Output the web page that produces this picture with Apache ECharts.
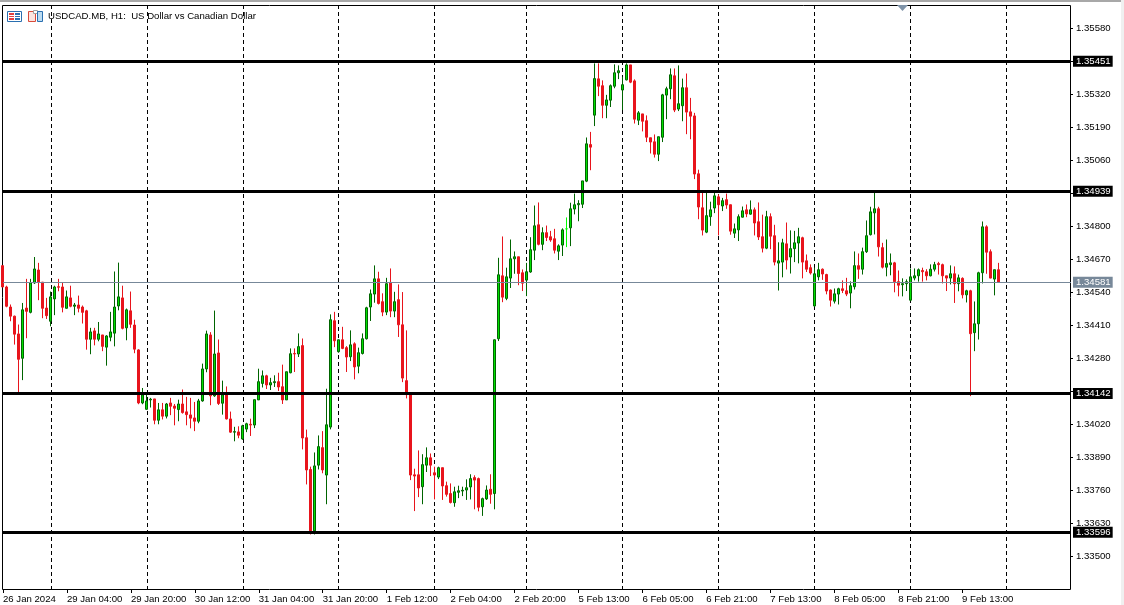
<!DOCTYPE html>
<html>
<head>
    <meta charset="utf-8">
    <title>USDCAD.MB, H1</title>
    <script src="https://cdn.jsdelivr.net/npm/echarts@6/dist/echarts.min.js"></script>
    <style type="text/css">
        * {
            margin: 0px;
            padding: 0px;
        }

        #main {
            position: absolute;
            width: 1124px;
            height: 605px;
            background: #ffffff;
        }
    </style>
</head>
<body>
<div id="main"></div>
<script type="text/javascript">
    // prices are kept in points (1.34581 -> 134581)
    var opens = [
        134646,134562,134483,134447,134377,134281,134479,134462,134578,134629,
        134581,134479,134427,134515,134563,134562,134478,134519,134486,134491,
        134483,134468,134356,134389,134356,134373,134325,134364,134380,134487,
        134519,134401,134468,134412,134314,134105,134080,134117,134121,134037,
        134078,134053,134105,134093,134079,134101,134070,134058,134046,134033,
        134113,134239,134373,134133,134302,134104,134137,134042,133990,133991,
        133963,134002,134021,134018,134117,134182,134212,134176,134185,134189,
        134169,134117,134224,134300,134298,134331,133968,133843,133601,133860,
        133929,133821,134010,134429,134307,134354,134323,134287,134338,134250,
        134300,134358,134483,134534,134594,134504,134463,134580,134467,134512,
        134413,134193,134138,133822,133822,133775,133860,133889,133830,133813,
        133850,133779,133748,133712,133753,133758,133762,133774,133811,133807,
        133696,133727,133765,133748,134358,134606,134517,134597,134673,134681,
        134618,134589,134621,134707,134807,134730,134776,134760,134752,134703,
        134727,134791,134795,134869,134886,134888,134979,135123,135239,135382,
        135355,135278,135298,135353,135406,135338,135378,135437,135374,135219,
        135244,135217,135150,135134,135085,135152,135318,135343,135394,135263,
        135276,135347,135252,135236,135008,134874,134778,134839,134873,134917,
        134881,134906,134886,134774,134787,134837,134866,134849,134866,134819,
        134760,134715,134839,134764,134656,134660,134732,134680,134713,134735,
        134756,134665,134638,134487,134602,134632,134611,134550,134506,134534,
        134555,134547,134538,134563,134646,134632,134701,134768,134854,134870,
        134717,134640,134650,134657,134583,134571,134575,134510,134597,134606,
        134627,134622,134606,134632,134654,134650,134606,134597,134614,134575,
        134596,134531,134547,134382,134417,134618,134799,134701,134593,134630
    ];
    var closes = [
        134562,134486,134447,134376,134277,134472,134466,134578,134633,134582,
        134478,134449,134523,134562,134561,134482,134523,134486,134491,134478,
        134462,134356,134385,134356,134377,134328,134369,134385,134483,134523,
        134399,134472,134415,134317,134105,134137,134113,134120,134037,134078,
        134053,134101,134092,134084,134101,134067,134059,134045,134033,134113,
        134239,134377,134133,134298,134103,134137,134042,133990,133992,133978,
        134015,134023,134018,134118,134189,134212,134176,134185,134189,134168,
        134117,134228,134299,134298,134327,133967,133841,133601,133857,133933,
        133841,134019,134433,134350,134354,134320,134286,134334,134247,134303,
        134358,134480,134535,134594,134497,134463,134575,134467,134504,134413,
        134203,134138,133821,133817,133770,133862,133889,133860,133821,133850,
        133778,133745,133713,133755,133759,133761,133771,133807,133801,133694,
        133728,133762,133745,134354,134610,134522,134602,134673,134681,134615,
        134577,134622,134709,134803,134730,134776,134757,134747,134707,134724,
        134787,134791,134870,134886,134891,134980,135126,135113,135383,135353,
        135278,135299,135355,135406,135414,135359,135437,135369,135223,135248,
        135215,135152,135133,135085,135154,135319,135343,135398,135259,135284,
        135347,135251,135235,135007,134877,134786,134843,134866,134921,134886,
        134902,134885,134782,134791,134839,134862,134850,134866,134814,134759,
        134715,134839,134762,134660,134665,134736,134668,134713,134736,134760,
        134660,134632,134617,134614,134630,134613,134546,134510,134535,134555,
        134548,134534,134567,134646,134632,134701,134764,134858,134870,134720,
        134640,134654,134657,134583,134569,134575,134583,134602,134606,134630,
        134622,134606,134632,134650,134650,134606,134597,134614,134575,134598,
        134531,134547,134378,134417,134618,134799,134699,134597,134630,134581
    ];
    var lows = [
        134562,134482,134427,134335,134147,134195,134360,134458,134574,134510,
        134439,134436,134407,134451,134545,134462,134477,134482,134451,134462,
        134418,134315,134297,134332,134348,134309,134252,134348,134328,134470,
        134395,134352,134401,134301,134100,134100,134078,134087,134021,134021,
        134040,134044,134057,134017,134033,134063,134017,134005,133994,134025,
        134110,134226,134096,134129,134097,134059,134040,133987,133954,133966,
        133960,133990,133975,134006,134117,134166,134160,134156,134168,134152,
        134101,134117,134222,134227,134286,133922,133784,133587,133587,133843,
        133828,133706,134001,134325,134303,134317,134227,134270,134198,134222,
        134296,134355,134428,134500,134493,134447,134451,134443,134443,134365,
        134187,134123,133801,133679,133734,133706,133833,133817,133725,133805,
        133723,133736,133709,133696,133730,133738,133723,133725,133686,133678,
        133660,133723,133708,133686,134349,134502,134510,134558,134614,134569,
        134546,134526,134618,134668,134726,134707,134743,134740,134694,134668,
        134684,134719,134723,134848,134821,134873,134975,135022,135196,135314,
        135227,135227,135271,135345,135381,135259,135376,135365,135206,135200,
        135175,135133,135088,135072,135058,135133,135223,135302,135251,135255,
        135215,135164,135144,134987,134829,134765,134774,134803,134853,134765,
        134861,134870,134768,134755,134743,134836,134837,134847,134765,134747,
        134698,134711,134711,134647,134548,134600,134631,134615,134660,134655,
        134596,134621,134611,134483,134588,134590,134533,134485,134497,134493,
        134538,134526,134478,134552,134594,134611,134696,134765,134769,134682,
        134635,134604,134608,134541,134525,134525,134546,134506,134588,134583,
        134583,134588,134604,134623,134611,134576,134546,134572,134499,134545,
        134517,134501,134132,134309,134355,134576,134614,134596,134529,134581
    ];
    var highs = [
        134646,134567,134493,134449,134414,134499,134594,134594,134680,134657,
        134581,134519,134544,134567,134594,134578,134548,134567,134499,134528,
        134489,134472,134401,134401,134424,134373,134372,134464,134623,134658,
        134567,134477,134544,134433,134317,134164,134145,134125,134121,134105,
        134105,134105,134125,134101,134118,134158,134129,134125,134109,134121,
        134260,134390,134384,134469,134355,134193,134170,134071,134011,134013,
        134019,134027,134043,134118,134240,134233,134216,134204,134214,134224,
        134256,134228,134320,134320,134379,134359,134000,133854,133910,133977,
        133994,134161,134454,134464,134355,134405,134329,134391,134344,134323,
        134379,134484,134552,134647,134622,134537,134598,134635,134543,134572,
        134542,134391,134145,133846,133918,133903,133930,133906,133854,133854,
        133850,133795,133788,133775,133779,133775,133804,133824,133820,133811,
        133732,133780,133824,134355,134677,134761,134638,134749,134702,134681,
        134631,134657,134758,134883,134895,134797,134804,134783,134791,134730,
        134793,134836,134894,134930,134904,134980,135151,135173,135443,135443,
        135376,135319,135360,135439,135435,135390,135443,135437,135380,135255,
        135244,135238,135150,135163,135154,135323,135351,135423,135423,135435,
        135383,135403,135307,135248,135024,134936,134936,134898,134937,134927,
        134913,134930,134887,134812,134848,134879,134887,134903,134875,134895,
        134847,134862,134852,134807,134738,134752,134816,134785,134783,134795,
        134760,134690,134651,134638,134657,134635,134614,134552,134556,134559,
        134588,134598,134584,134702,134694,134717,134824,134878,134937,134878,
        134736,134749,134694,134661,134627,134596,134592,134635,134635,134635,
        134638,134632,134651,134661,134661,134654,134606,134647,134643,134611,
        134600,134551,134551,134505,134622,134820,134805,134710,134630,134657
    ];
    var timeLabels = ['26 Jan 2024', '29 Jan 04:00', '29 Jan 20:00', '30 Jan 12:00', '31 Jan 04:00', '31 Jan 20:00',
        '1 Feb 12:00', '2 Feb 04:00', '2 Feb 20:00', '5 Feb 13:00', '6 Feb 05:00', '6 Feb 21:00',
        '7 Feb 13:00', '8 Feb 05:00', '8 Feb 21:00', '9 Feb 13:00'];
    var dayBars = [12, 36, 60, 84, 108, 131, 155, 179, 203, 227, 251];
    var priceTicks = [133500, 133630, 133760, 133890, 134020, 134150, 134280, 134410, 134540, 134670,
        134800, 134930, 135060, 135190, 135320, 135450, 135580];
    var priceLabels = [133500, 133630, 133760, 133890, 134020, 134280, 134410, 134540, 134670,
        134800, 135060, 135190, 135320, 135580];
    var levels = [135451, 134939, 134142, 133596];
    var lastPrice = 134581;

    var BARS_PER_LABEL = 16;
    var SLOTS = 268;
    var AXIS_FONT = "'Liberation Sans', sans-serif";
    var AXIS_SIZE = 9.6;
    var PRICE_MIN = 133372;
    var PRICE_MAX = 135673;

    function priceText(v) {
        return (v / 100000).toFixed(5);
    }

    // category slots also cover the empty shift on the right side of the chart
    var categories = [];
    for (var i = 0; i < SLOTS; i++) {
        categories.push(i % BARS_PER_LABEL == 0 && timeLabels[i / BARS_PER_LABEL] ? timeLabels[i / BARS_PER_LABEL] : '');
    }

    var candles = [];
    for (var j = 0; j < opens.length; j++) {
        var item = {value: [j, opens[j], closes[j], lows[j], highs[j]]};
        // open == close is drawn in the chart line colour
        if (opens[j] == closes[j]) {
            item.itemStyle = {color: '#00ff00', borderColor: '#00ff00', color0: '#00ff00', borderColor0: '#00ff00'};
        }
        candles.push(item);
    }

    var levelLines = [];
    for (var k = 0; k < levels.length; k++) {
        levelLines.push({
            yAxis: levels[k],
            lineStyle: {color: '#000000', width: 3, type: 'solid'},
            label: {backgroundColor: '#000000', color: '#ffffff'}
        });
    }
    levelLines.push({
        yAxis: lastPrice,
        lineStyle: {color: '#778899', width: 1, type: 'solid'},
        label: {backgroundColor: '#778899', color: '#ffffff'}
    });

    function isLabelBar(index) {
        return index % BARS_PER_LABEL == 0 && index / BARS_PER_LABEL < timeLabels.length;
    }

    var myChart = echarts.init(document.getElementById('main'));

    var option = {
        animation: false,
        backgroundColor: '#ffffff',
        title: {
            text: 'USDCAD.MB, H1:  US Dollar vs Canadian Dollar',
            left: 48,
            top: 11,
            padding: 0,
            textStyle: {
                color: '#000000',
                fontWeight: 'normal',
                fontSize: AXIS_SIZE,
                fontFamily: AXIS_FONT
            }
        },
        // first grid holds the axes, second one holds the candles half a pixel off
        // so wicks and bodies land on whole pixel columns
        grid: [
            {left: 2, top: 5, width: 1068, height: 584},
            {left: 3, top: 5, width: 1068, height: 584}
        ],
        xAxis: [{
            type: 'category',
            gridIndex: 0,
            data: categories,
            boundaryGap: false,
            axisLine: {show: false},
            axisTick: {
                show: true,
                length: 4,
                interval: function (index) {
                    return isLabelBar(index);
                },
                lineStyle: {color: '#000000'}
            },
            axisLabel: {
                interval: function (index) {
                    return isLabelBar(index);
                },
                align: 'left',
                margin: 5,
                color: '#000000',
                fontSize: AXIS_SIZE,
                fontFamily: AXIS_FONT
            },
            splitLine: {
                show: true,
                interval: function (index) {
                    return dayBars.indexOf(index) >= 0;
                },
                lineStyle: {color: '#000000', width: 1, type: [4, 3]}
            }
        }, {
            type: 'value',
            gridIndex: 1,
            min: 0.125,
            max: SLOTS - 1 + 0.125,
            show: false,
            splitLine: {show: false}
        }],
        yAxis: [{
            type: 'value',
            gridIndex: 0,
            position: 'right',
            min: PRICE_MIN,
            max: PRICE_MAX,
            scale: true,
            axisLine: {show: false},
            axisTick: {
                show: true,
                length: 3,
                customValues: priceTicks,
                lineStyle: {color: '#000000'}
            },
            axisLabel: {
                customValues: priceLabels,
                formatter: priceText,
                margin: 6,
                color: '#000000',
                fontSize: AXIS_SIZE,
                fontFamily: AXIS_FONT
            },
            splitLine: {show: false}
        }, {
            type: 'value',
            gridIndex: 1,
            min: PRICE_MIN,
            max: PRICE_MAX,
            scale: true,
            show: false,
            splitLine: {show: false}
        }],
        series: [{
            type: 'candlestick',
            xAxisIndex: 1,
            yAxisIndex: 1,
            data: candles,
            barWidth: 2,
            itemStyle: {
                color: '#00e000',
                color0: '#e8141c',
                borderColor: '#006400',
                borderColor0: '#e8141c',
                borderWidth: 1
            },
            markLine: {
                silent: true,
                symbol: 'none',
                animation: false,
                label: {
                    position: 'end',
                    distance: 2,
                    formatter: function (p) {
                        return priceText(p.value);
                    },
                    padding: [1, 2, 0, 3],
                    fontSize: AXIS_SIZE,
                    fontFamily: AXIS_FONT
                },
                data: levelLines
            }
        }],
        graphic: [
            // chart frame, window edge and chart decorations
            {type: 'rect', shape: {x: 2.5, y: 5.5, width: 1068, height: 584}, style: {fill: 'none', stroke: '#000000', lineWidth: 1}},
            {type: 'rect', shape: {x: 0, y: 0, width: 1124, height: 2}, style: {fill: '#a8a8a8'}},
            {type: 'rect', shape: {x: 1121, y: 0, width: 3, height: 605}, style: {fill: '#f0f0f0'}},
            {type: 'polygon', shape: {points: [[897, 5], [908, 5], [902.5, 11]]}, style: {fill: '#7f93a8'}},
            // toolbar icons
            {type: 'rect', shape: {x: 7.5, y: 11.5, width: 14, height: 10}, style: {fill: '#ffffff', stroke: '#2a6fb0', lineWidth: 1}},
            {type: 'rect', shape: {x: 9, y: 13, width: 5, height: 2}, style: {fill: '#e04040'}},
            {type: 'rect', shape: {x: 9, y: 16, width: 5, height: 1}, style: {fill: '#e04040'}},
            {type: 'rect', shape: {x: 9, y: 18, width: 5, height: 2}, style: {fill: '#e04040'}},
            {type: 'rect', shape: {x: 15, y: 13, width: 5, height: 2}, style: {fill: '#2a6fb0'}},
            {type: 'rect', shape: {x: 15, y: 16, width: 5, height: 1}, style: {fill: '#2a6fb0'}},
            {type: 'rect', shape: {x: 15, y: 18, width: 5, height: 2}, style: {fill: '#2a6fb0'}},
            {type: 'rect', shape: {x: 28.5, y: 11.5, width: 7, height: 10}, style: {fill: '#fbe4e0', stroke: '#d84a3a', lineWidth: 1}},
            {type: 'rect', shape: {x: 33.5, y: 10.5, width: 4, height: 3}, style: {fill: '#ffffff', stroke: '#a0a0a0', lineWidth: 1}},
            {type: 'rect', shape: {x: 37.5, y: 11.5, width: 5, height: 10}, style: {fill: '#bcdcf2', stroke: '#2a6fb0', lineWidth: 1}}
        ]
    };

    myChart.setOption(option);
</script>
</body>
</html>
